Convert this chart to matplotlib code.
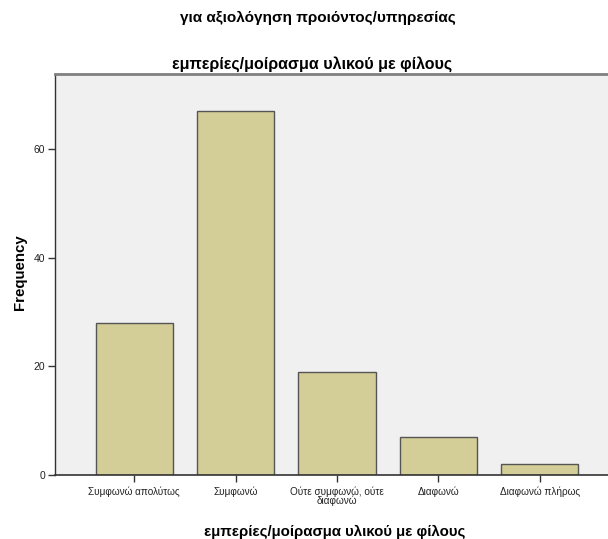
import matplotlib
matplotlib.use("Agg")
import matplotlib.pyplot as plt

categories = ["Συμφωνώ απολύτως", "Συμφωνώ", "Ούτε συμφωνώ, ούτε\nδιαφωνώ", "Διαφωνώ", "Διαφωνώ πλήρως"]
values = [28, 67, 19, 7, 2]
yticks = [0, 20, 40, 60]
suptitle = "για αξιολόγηση προιόντος/υπηρεσίας"
title = "εμπερίες/μοίρασμα υλικού με φίλους"
xlabel = "εμπερίες/μοίρασμα υλικού με φίλους"
ylabel = "Frequency"

plt.rcParams['font.family'] = ['Liberation Sans', 'DejaVu Sans']

W, H = 608, 539
fig = plt.figure(figsize=(W/100, H/100), dpi=100)
fig.patch.set_facecolor("white")
left, right, top, bottom = 55, 619, 74, 475
ax = fig.add_axes([left/W, 1-bottom/H, (right-left)/W, (bottom-top)/H])
ax.set_facecolor("#f0f0f0")

x = list(range(len(categories)))
ax.bar(x, values, width=0.76, color="#d3ce97", edgecolor="#555555", linewidth=1.0, zorder=2)

ax.set_xlim(-0.78, len(categories) - 1 + 0.78)
ax.set_ylim(0, 73.8)
ax.set_yticks(yticks)
ax.set_xticks(x)
ax.set_xticklabels(categories, fontsize=7.2, linespacing=0.85, color="#222222")
ax.tick_params(axis='y', labelsize=7.5, length=5, width=1, color="#333333", labelcolor="#222222", pad=2)
ax.tick_params(axis='x', length=5, width=1, color="#333333", pad=3)

ax.spines["right"].set_visible(False)
ax.spines["top"].set_color("#808080")
ax.spines["top"].set_linewidth(2)
ax.spines["left"].set_color("#333333")
ax.spines["bottom"].set_color("#333333")
ax.spines["left"].set_linewidth(1)
ax.spines["bottom"].set_linewidth(1.2)

ax.set_xlabel(xlabel, fontsize=10.8, fontweight="bold")
ax.xaxis.set_label_coords(((335 - left) / (right - left)), -(532 - bottom) / (bottom - top), transform=ax.transAxes)
ax.xaxis.label.set_va("center")
ax.set_ylabel(ylabel, fontsize=10.8, fontweight="bold")
ax.yaxis.set_label_coords(-(left - 20) / (right - left), 0.5 + ((bottom + top) / 2 - 272) / (bottom - top), transform=ax.transAxes)
ax.yaxis.label.set_va("center")

fig.text(318/W, 1-18/H, suptitle, ha="center", va="center", fontsize=11, fontweight="bold")
fig.text(312/W, 1-64/H, title, ha="center", va="center", fontsize=11.5, fontweight="bold")

fig.savefig("out.png", dpi=100)
